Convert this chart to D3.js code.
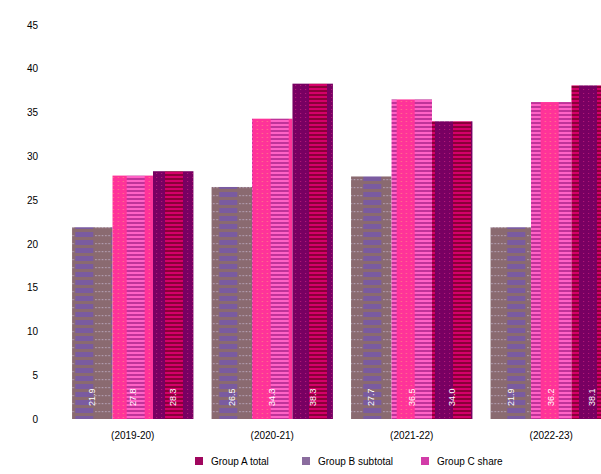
<!DOCTYPE html>
<html>
<head>
<meta charset="utf-8">
<script src="https://cdn.jsdelivr.net/npm/d3@7"></script>
<style>
  html, body { margin: 0; padding: 0; background: #fff; overflow: hidden; }
  svg { display: block; font-family: "Liberation Sans", Arial, sans-serif; }
</style>
</head>
<body>
<div id="chart"></div>
<script>
// ---- data ----
const categories = ["(2019-20)", "(2020-21)", "(2021-22)", "(2022-23)"];
const seriesNames = ["Group B subtotal", "Group C share", "Group A total"]; // bar order
const purpleValues = [21.9, 26.5, 27.7, 21.9];
const pinkValues = [27.8, 34.3, 36.5, 36.2];
const magentaValues = [28.3, 38.3, 34.0, 38.1];
const legendOrder = ["Group A total", "Group B subtotal", "Group C share"];
const yTicks = [0, 5, 10, 15, 20, 25, 30, 35, 40, 45];

const W = 601, H = 474;
const svg = d3.select("#chart").append("svg").attr("width", W).attr("height", H);
const defs = svg.append("defs");

// patterns
function makePattern(id, x, w, h, draw) {
  const p = defs.append("pattern").attr("id", id)
    .attr("patternUnits", "userSpaceOnUse")
    .attr("x", x).attr("y", 0).attr("width", w).attr("height", h);
  draw(p);
}
makePattern("pPurple", 3.3, 36, 8, p => {
  p.append("rect").attr("width", 36).attr("height", 8).attr("fill", "#8a6a70");
  p.append("rect").attr("x", 0).attr("y", 0).attr("width", 18).attr("height", 5).attr("fill", "#7a5ba0");
  for (let i = 0; i < 5; i++) {
    p.append("rect").attr("x", 20 + i * 3.3).attr("y", 3).attr("width", 1.4).attr("height", 1.2).attr("fill", "#b8a6bc");
  }
});
makePattern("pPink", 0.7, 36, 4, p => {
  p.append("rect").attr("width", 36).attr("height", 4).attr("fill", "#ff3399");
  p.append("rect").attr("x", 18).attr("y", 0).attr("width", 18).attr("height", 2).attr("fill", "#ff62c6");
  p.append("rect").attr("x", 18).attr("y", 2).attr("width", 18).attr("height", 2).attr("fill", "#bf3399");
  [4, 9, 14].forEach(x => p.append("rect").attr("x", x).attr("y", 1).attr("width", 1.2).attr("height", 1).attr("fill", "#ff7a88"));
});
makePattern("pMagenta", 3, 36, 4, p => {
  p.append("rect").attr("width", 36).attr("height", 4).attr("fill", "#780062");
  p.append("rect").attr("x", 18).attr("y", 0).attr("width", 18).attr("height", 2).attr("fill", "#d4006a");
  p.append("rect").attr("x", 18).attr("y", 2).attr("width", 18).attr("height", 2).attr("fill", "#8a0038");
  [4, 9, 14].forEach(x => p.append("rect").attr("x", x).attr("y", 1).attr("width", 1.2).attr("height", 1).attr("fill", "#b01878"));
});

const series = [
  { name: seriesNames[0], values: purpleValues, fill: "url(#pPurple)", legend: "#8a6c9e" },
  { name: seriesNames[1], values: pinkValues, fill: "url(#pPink)", legend: "#d23ca8" },
  { name: seriesNames[2], values: magentaValues, fill: "url(#pMagenta)", legend: "#a0065e" }
];

// scales
const y = d3.scaleLinear().domain([0, 45]).range([419, 25]);
const x0 = d3.scaleBand().domain(categories).range([63, 621]).paddingInner(0.13).paddingOuter(0.065);
const x1 = d3.scaleBand().domain(series.map(s => s.name)).range([0, x0.bandwidth()]);

// y axis labels
const yAxis = d3.axisLeft(y).tickValues(yTicks).tickSize(0).tickPadding(0);
const yg = svg.append("g").attr("transform", "translate(38,0)").call(yAxis);
yg.select(".domain").remove();
yg.selectAll("text").attr("font-size", 10).attr("fill", "#000")
  .attr("font-family", "Liberation Sans, Arial, sans-serif");

// bars
const groups = svg.append("g").selectAll("g").data(categories).join("g");
series.forEach(s => {
  groups.append("rect")
    .attr("x", (c) => x0(c) + x1(s.name))
    .attr("y", (c, i) => y(s.values[i]))
    .attr("width", x1.bandwidth())
    .attr("height", (c, i) => y(0) - y(s.values[i]))
    .attr("fill", s.fill);
  groups.append("text")
    .attr("transform", (c) => `translate(${x0(c) + x1(s.name) + x1.bandwidth() / 2 + 3},406) rotate(-90)`)
    .attr("font-size", 9)
    .attr("fill", "#fff")
    .attr("text-anchor", "start")
    .text((c, i) => s.values[i].toFixed(1));
});

// x axis labels
const xAxis = d3.axisBottom(x0).tickSize(0).tickPadding(0);
const xg = svg.append("g").attr("transform", "translate(0,432)").call(xAxis);
xg.select(".domain").remove();
xg.selectAll("text").attr("font-size", 10).attr("fill", "#000")
  .attr("font-family", "Liberation Sans, Arial, sans-serif");

// legend
const legendX = [195, 302, 421];
const leg = svg.append("g").selectAll("g").data(legendOrder).join("g")
  .attr("transform", (d, i) => `translate(${legendX[i]},457)`);
leg.append("rect").attr("width", 8).attr("height", 8)
  .attr("fill", d => series.find(s => s.name === d).legend);
leg.append("text").attr("x", 16).attr("y", 8).attr("font-size", 10).attr("fill", "#000").text(d => d);
</script>
</body>
</html>
